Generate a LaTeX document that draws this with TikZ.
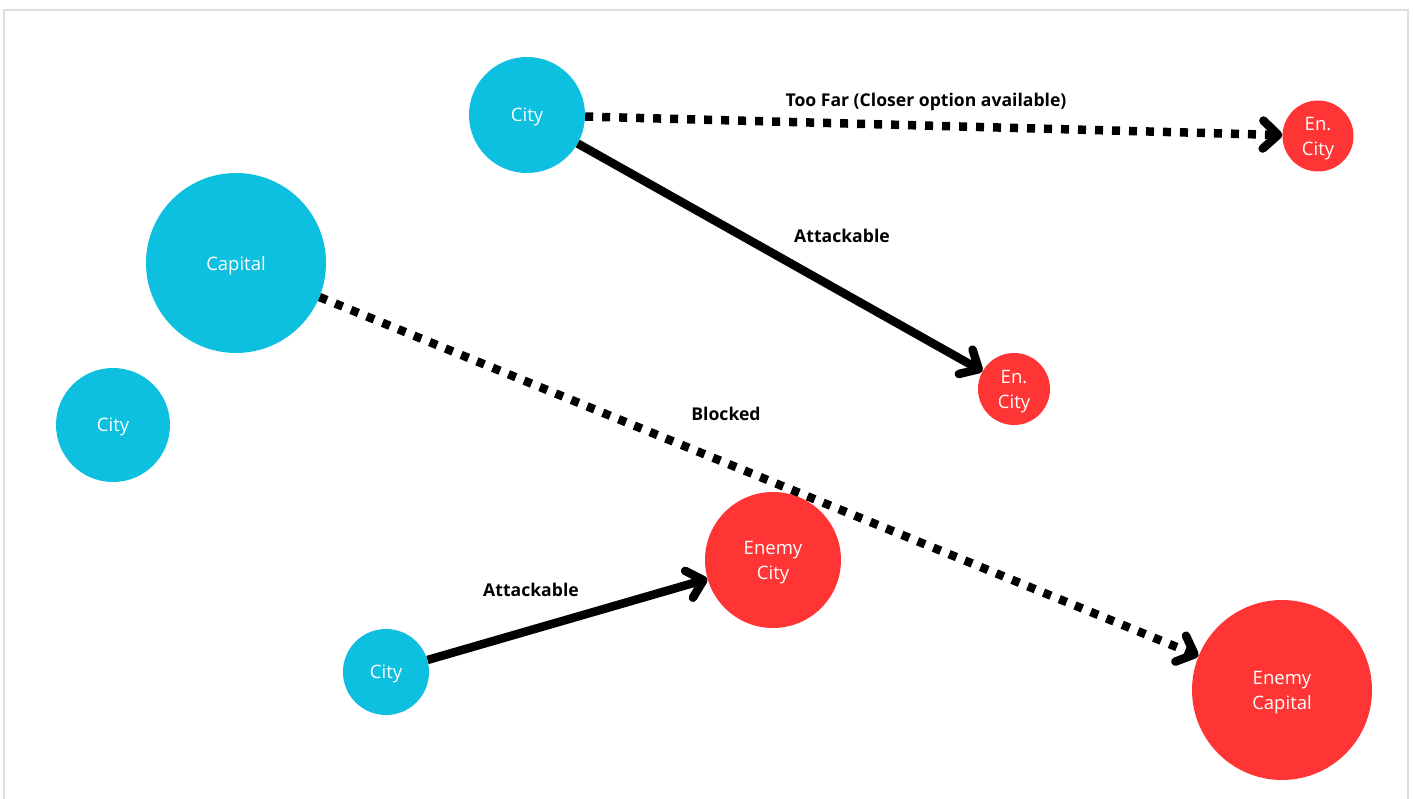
\documentclass[tikz,border=0pt]{standalone}
\usepackage{fontspec}
\setmainfont{Open Sans}
\usetikzlibrary{arrows.meta}
\definecolor{owncyan}{HTML}{0EC0DF}
\definecolor{enemyred}{HTML}{FF3535}
\definecolor{framegray}{HTML}{DEDEDE}
\tikzset{
  town/.style={circle, fill=#1, text=white, inner sep=0pt, align=center,
    text depth=0pt, font=\fontsize{18.5}{25}\selectfont},
  attack/.style={line width=8.5pt, -{Straight Barb[length=15pt, width=28pt, round]}},
  nogo/.style={attack, dash pattern=on 8pt off 9pt},
  lbl/.style={text depth=0pt, font=\bfseries\fontsize{17.6}{20}\selectfont}
}

\begin{document}
\begin{tikzpicture}[x=1pt,y=-1pt]
\useasboundingbox (0,0) rectangle (1413,799);
\draw[framegray, line width=2pt] (4,799) -- (4,10) -- (1408,10) -- (1408,799);
% own side
\node[town=owncyan, minimum size=116pt] (cityTop) at (527,115) {City};
\node[town=owncyan, minimum size=180pt] (capital) at (236,263) {Capital};
\node[town=owncyan, minimum size=114pt] (cityLeft) at (113,425) {City};
\node[town=owncyan, minimum size=86pt] (cityBot) at (386,672) {City};
% enemy side
\node[town=enemyred, minimum size=71pt] (enFar) at (1318,136) {En.\\City};
\node[town=enemyred, minimum size=72pt] (enNear) at (1014,389) {En.\\City};
\node[town=enemyred, minimum size=136pt] (enCity) at (773,560) {Enemy\\City};
\node[town=enemyred, minimum size=180pt] (enCapital) at (1282,690) {Enemy\\Capital};
% connectors
\draw[nogo] (cityTop) -- (enFar);
\node[lbl] (lblFar) at (926,100) {Too Far (Closer option available)};
\draw[attack] (cityTop) -- (enNear);
\node[lbl] (lblNear) at (842,236) {Attackable};
\draw[nogo] (capital) -- (enCapital);
\node[lbl] (lblBlock) at (726,414) {Blocked};
\draw[attack] (cityBot) -- (enCity);
\node[lbl] (lblBot) at (531,590) {Attackable};
\end{tikzpicture}
\end{document}
